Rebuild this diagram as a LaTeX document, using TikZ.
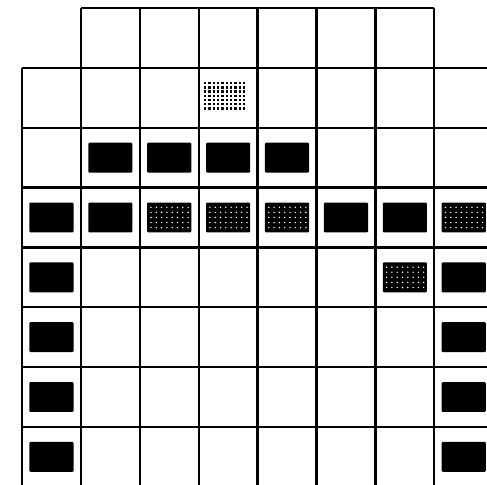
\documentclass[tikz,border=0pt]{standalone}
\usepackage{tikz}
\usetikzlibrary{calc}

\begin{document}
\begin{tikzpicture}[x=1.178cm, y=-1.197cm, line width=1.3pt,
  blk/.style={fill=black, rounded corners=0.6pt}]
  \useasboundingbox (-0.374,-0.134) rectangle (7.895,7.969);
  \clip (-0.374,-0.134) rectangle (7.895,7.969);

  % grid
  \draw (1,0) -- (7,0);
  \foreach \r in {1,...,8} \draw (0,\r) -- (9,\r);
  \foreach \c in {1,...,7} \draw (\c,0) -- (\c,8.2);
  \draw (0,1) -- (0,8.2);
  \draw (8,1) -- (8,8.2);

  % solid blocks
  \foreach \c/\r in {1/2,2/2,3/2,4/2, 0/3,1/3,5/3,6/3, 0/4,7/4, 0/5,7/5, 0/6,7/6, 0/7,7/7}
    \fill[blk] (\c+0.125,\r+0.25) rectangle (\c+0.875,\r+0.75);

  % speckled blocks
  \foreach \c/\r in {2/3,3/3,4/3,7/3,6/4} {
    \fill[blk] (\c+0.125,\r+0.25) rectangle (\c+0.875,\r+0.75);
    \foreach \i in {0,...,7}
      \foreach \j in {0,...,4}
        \fill[white] (\c+0.19+\i*0.09,\r+0.33+\j*0.085) circle (0.45pt);
  }

  % light dotted block
  \foreach \i in {0,...,9}
    \foreach \j in {0,...,6}
      \fill (3.09+\i*0.0735,1.236+\j*0.0705) rectangle +(0.04,0.04);
\end{tikzpicture}
\end{document}
